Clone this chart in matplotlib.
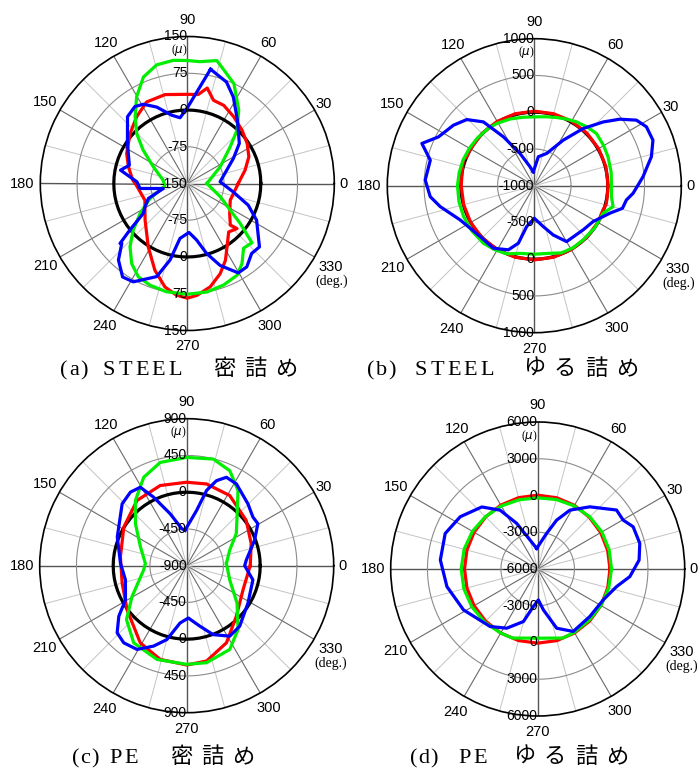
import numpy as np
import matplotlib
matplotlib.use("Agg")
import matplotlib.pyplot as plt

# ---------------- data (angle in degrees, value in micro-strain) ----------------
# (a) STEEL dense packing  (radial range -150..150)
a_black_deg = list(range(0, 361, 5))
a_black_val = [0] * len(a_black_deg)
a_red_deg = [0, 13, 23.5, 33.8, 44.3, 55.2, 65, 72.5, 78.2, 83, 90, 104, 116.5, 127.2, 138.9, 153.7, 164,
             176, 182, 201.5, 220.9, 238.4, 249.5, 257.8, 264.5, 270, 275, 282.5, 290, 296.4, 302,
             310.5, 317.8, 316, 324.7, 338.8, 360]
a_red_val = [-46, -29, -13, -3, 6, 16, 26, 28, 49, 33, 32, 37, 36, 21, 5, -12, -25,
             -38, -46, -57, -36, 2, 39, 66, 79, 84, 79, 66, 46, 25, 3,
             -20, -13, -28, -44, -56, -46]
a_green_deg = [0, 26.8, 40.5, 47, 55, 65, 72, 76.5, 84, 90, 96.5, 104.5, 112.4, 120.3, 128, 135.4, 142.9,
               153.9, 172, 186, 201.9, 212.4, 220.8, 227.8, 235.2, 242.3, 249.8, 259, 270, 280.3, 289.7,
               298.5, 304.3, 311, 317.5, 323, 328.2, 338, 360]
a_green_val = [-110, -75, -35, -1, 33, 75, 93, 108, 100, 101, 103, 100, 85, 55, 23, -5, -37,
               -73, -100, -104, -68, -36, -4, 24, 49, 65, 71, 75, 76, 75, 70,
               63, 48, 25, 29, -15, -47, -77, -110]
a_blue_deg = [78.5, 68.9, 62, 51.7, 37.6, 28.5, 3, -10.3, -19.6, -27.9, -41.3, -47.4, -54.5, -60.3,
              -68.2, -74.6, -80.6, -88, -97.6, -102.7, -108.2, -118.8, -124.7, -132, -137.6, -138.3,
              -141, -145.7, -151, -159, -168.2, -174, -182, -191.3, -197.5, -213.8, -228.2, -235.7,
              -241, -248.2, -257.1, -263.7, -269.7, -281.5]
a_blue_val = [88, 72, 50, 15, -16, -43, -83, -55, -18, 10, 46, 44, 59, 60,
              30, -2, -33, -50, -37, 10, 50, 79, 82, 60, 31, 34,
              1, -41, -51, -65, -100, -53, -47, -11, -26, -3, 33, 40,
              35, 18, -7, -15, 3, 88]

# (b) STEEL loose packing  (radial range -1000..1000)
b_black_deg = list(range(0, 361, 5))
b_black_val = [0] * len(b_black_deg)
b_red_deg = [0, 15, 30, 45, 60, 75, 90, 105, 120, 135, 150, 157, 160, 165, 180, 195, 210, 225, 240,
             255, 270, 285, 300, 315, 330, 341, 345, 350, 360]
b_red_val = [5, 8, 10, 12, 14, 14, 14, 13, 10, 6, 2, 0, 25, 10, -5, -5, 0, 3, 5,
             8, 9, 8, 5, 2, 0, -9, 10, 5, 5]
b_green_deg = [0, 10, 21.4, 30, 40, 48, 56.5, 64, 71.9, 80, 90, 100, 110, 121, 130, 140, 150, 160, 170,
               180, 192, 203.6, 216, 228.5, 238, 248, 258, 270, 282, 292, 302, 312, 325, 338.2,
               345.1, 352, 360]
b_green_val = [50, 62, 77, 90, 104, 75, 41, 8, -24, -48, -63, -55, -35, -11, 0, 10, 20, 30, 38,
               45, 48, 50, 48, 45, 25, 0, -59, -68, -59, -14, -5, -7, 2, 9,
               109, 60, 50]
b_blue_deg = [94, 82, 69, 57.6, 49.5, 42.8, 37.9, 32.7, 27.7, 21, 13.9, 4.7, -4.4, -8.8, -14.4, -20,
              -31.4, -42.1, -60, -69, -77.6, -90, -100.6, -105.5, -112, -123.2, -136.8, -155.2,
              -167.5, -174, -183, -193.8, -200.6, -207, -216.8, -224.4, -231.4, -237.7, -246.1,
              -257.2, -266]
b_blue_val = [-810, -602, -530, -267, 23, 276, 473, 651, 723, 729, 641, 484, 348, 268, 238, 94,
              -63, -104, -122, -282, -430, -557, -434, -188, -59, 17, 11, 111,
              312, 424, 486, 457, 634, 463, 374, 286, 111, -213, -520,
              -735, -810]

# (c) PE dense packing  (radial range -900..900)
c_black_deg = list(range(0, 361, 5))
c_black_val = [0] * len(c_black_deg)
c_red_deg = [0, 19, 37.3, 58.5, 76.3, 90, 108.3, 127.3, 148.4, 172.3, 195.2, 216.5, 239, 254.2, 270,
             281.8, 297.3, 314.4, 337, 360]
c_red_val = [-122, -65, 16, 108, 130, 122, 134, 104, 4, -81, -81, 8, 203, 292, 316,
             292, 162, -32, -150, -122]
c_green_deg = [3.3, 19.9, 33, 44, 55.7, 65.6, 76, 90, 104.4, 115.9, 128.2, 140.7, 157.8, 176.8, 185.7,
               209.4, 221.8, 235.5, 252.4, 270, 281.6, 297.2, 308.8, 323.4, 341.7, 363.3]
c_green_val = [-413, -340, -176, -43, 215, 377, 446, 426, 405, 304, 116, -89, -288, -393, -370,
               -132, 89, 246, 304, 308, 312, 253, 103, -132, -345, -413]
c_blue_deg = [92.7, 79.8, 75.2, 70.7, 65.8, 58.7, 45.3, 36.3, 30.6, 20.6, 5.4, 0, -12.1, -31.4, -48.8,
              -58.6, -69, -77.7, -88.2, -96.6, -105, -112.4, -120.7, -129.2, -136, -143.3, -150.9,
              -167, -182, -202.5, -223.8, -232.6, -239.4, -244.2, -252.3, -262.4, -267.3]
c_blue_val = [-466, -211, 53, 203, 287, 272, 166, 106, 112, -12, -167, -190, -71, -21, 85,
              111, 4, -142, -259, -194, 36, 165, 292, 319, 284, 137, -42,
              -130, -89, 20, 195, 234, 216, 32, -232, -442, -466]

# (d) PE loose packing  (radial range -6000..6000)
d_red_deg = list(range(0, 361, 15))
d_red_val = [-100, -90, -60, -30, 0, 20, 27, 30, 25, 10, -5, -20, -27, -20, -5, 15, 35, 50, 54,
             50, 30, 0, -40, -80, -100]
d_green_deg = [0, 15, 30, 45, 60, 75, 90, 105, 120, 135, 150, 165, 180, 195, 210, 225, 240, 250,
               260, 270, 280, 290, 300, 315, 330, 345, 360]
d_green_val = [27, 40, 50, 20, -50, -130, -190, -150, -60, 40, 150, 220, 245, 240, 200, 130, 40, 0,
               -271, -353, -271, 0, -30, -80, -40, 0, 27]
d_blue_deg = [92.8, 76, 68.8, 61.3, 50, 36.8, 29.8, 23.9, 14.1, 5, -4.7, -12.6, -25.3, -42.3, -60.4,
              -72.2, -82.1, -88.8, -96.6, -105.2, -117.6, -129.6, -151.1, -169, -185.3, -201,
              -214, -228, -237.4, -245.3, -255.2, -267.2]
d_blue_val = [-4317, -3013, -1719, -521, 625, 2036, 2036, 2520, 2593, 2308, 1548, 595, -87, -244, -136,
              -923, -2633, -3475, -2913, -1556, -548, 93, 915, 1548, 1982, 2090,
              1629, 815, -298, -1906, -3557, -4317]

angle_ticks = list(range(0, 360, 30))
angle_labels = [str(d) for d in angle_ticks]
a_ticks = [-150, -75, 0, 75, 150]
b_ticks = [-1000, -500, 0, 500, 1000]
c_ticks = [-900, -450, 0, 450, 900]
d_ticks = [-6000, -3000, 0, 3000, 6000]

# ---------------- figure ----------------
W, H = 700, 769
fig = plt.figure(figsize=(W / 100, H / 100), dpi=100)
SANS = "Liberation Sans"
SERIF = ["Liberation Serif", "Noto Sans CJK JP", "DejaVu Sans"]
R = 147
# distance (px) of each angle label centre from the panel centre
label_dist = {0: 156, 30: 158, 60: 162, 90: 164, 120: 162, 150: 164, 180: 165,
              210: 164, 240: 165, 270: 163, 300: 164, 330: 166}


def px_rect(cx, cy):
    return [(cx - R) / W, (H - cy - R) / H, 2 * R / W, 2 * R / H]


def panel(cx, cy, ticks, series):
    ax = fig.add_axes(px_rect(cx, cy), projection="polar")
    rmin, rmax = ticks[0], ticks[-1]
    ax.set_ylim(rmin, rmax)
    ax.grid(False)
    ax.set_yticks([])
    ax.set_xticks(np.deg2rad(angle_ticks))
    ax.set_xticklabels([])
    ax.tick_params(axis="x", length=0)
    ax.spines["polar"].set_linewidth(1.2)
    ax.spines["polar"].set_color("black")
    # spokes
    for d in range(0, 360, 15):
        th = np.deg2rad(d)
        if d % 90 == 0:
            c, lw = "#555555", 1.0
        elif d % 30 == 0:
            c, lw = "#6a6a6a", 0.8
        else:
            c, lw = "#c4c4c4", 0.7
        ax.plot([th, th], [rmin, rmax], color=c, lw=lw, zorder=1)
    tt = np.linspace(0, 2 * np.pi, 361)
    for v in ticks[1:-1]:
        ax.plot(tt, np.full_like(tt, v), color="#8c8c8c", lw=0.8, zorder=1)
    # data
    for deg, val, col in series:
        th = np.deg2rad(np.asarray(deg, dtype=float))
        ax.plot(th, np.asarray(val, dtype=float), color=col, lw=2.3, zorder=3,
                solid_joinstyle="round")
    # angle labels
    for d, lab in zip(angle_ticks, angle_labels):
        dist = label_dist[d]
        x = cx + dist * np.cos(np.deg2rad(d))
        y = cy - dist * np.sin(np.deg2rad(d))
        fig.text(x / W, 1 - y / H, lab, ha="center", va="center", fontsize=10.5, family=SANS)
    # radial labels
    for v in ticks:
        ax.text(np.pi / 2, v, str(v), ha="right", va="center", fontsize=10,
                family=SANS, zorder=5)
    for v in ticks[1:]:
        ax.text(3 * np.pi / 2, v, str(v), ha="right", va="center", fontsize=10,
                family=SANS, zorder=5)
    ax.text(np.pi / 2, rmin + 0.907 * (rmax - rmin), r"($\mu$)", ha="right", va="center",
            fontsize=8.5, family="Liberation Serif", zorder=5)
    ax.text(0.99, 0.168, "(deg.)", transform=ax.transAxes, ha="center", va="center",
            fontsize=10, family="Liberation Serif")
    return ax


panel(187.3, 183.5, a_ticks, [(a_black_deg, a_black_val, "black"),
                              (a_red_deg, a_red_val, "#ff0000"),
                              (a_green_deg, a_green_val, "#00ee00"),
                              (a_blue_deg, a_blue_val, "#0000ff")])
panel(534.3, 185.7, b_ticks, [(b_black_deg, b_black_val, "black"),
                              (b_red_deg, b_red_val, "#ff0000"),
                              (b_green_deg, b_green_val, "#00ee00"),
                              (b_blue_deg, b_blue_val, "#0000ff")])
panel(186.7, 565.7, c_ticks, [(c_black_deg, c_black_val, "black"),
                              (c_red_deg, c_red_val, "#ff0000"),
                              (c_green_deg, c_green_val, "#00ee00"),
                              (c_blue_deg, c_blue_val, "#0000ff")])
panel(537.7, 569.0, d_ticks, [(d_red_deg, d_red_val, "#ff0000"),
                              (d_green_deg, d_green_val, "#00ee00"),
                              (d_blue_deg, d_blue_val, "#0000ff")])

# ---------------- titles (letter-spaced) ----------------
renderer = fig.canvas.get_renderer()


def spaced(x0, ybase, s, track=3.0, size=16):
    x = x0
    for ch in s:
        t = fig.text(x / W, 1 - ybase / H, ch, fontsize=size, family=SERIF,
                     ha="left", va="baseline")
        w = t.get_window_extent(renderer).width
        x += w + track


def jp(x0, ybase, s, pitch=31, size=16):
    for i, ch in enumerate(s):
        fig.text((x0 + i * pitch) / W, 1 - ybase / H, ch, fontsize=size, family=SERIF,
                 ha="left", va="baseline")


spaced(60, 375, "(a)", track=1.5)
spaced(103, 375, "STEEL")
jp(213, 375, "密詰め")
spaced(367, 375, "(b)", track=1.5)
spaced(415, 375, "STEEL")
jp(523, 375, "ゆる詰め")
spaced(72, 763, "(c)", track=1.0)
spaced(109, 763, "PE")
jp(170, 763, "密詰め")
spaced(410, 763, "(d)", track=1.0)
spaced(458, 763, "PE")
jp(513, 763, "ゆる詰め")

fig.savefig("out.png", dpi=100)
